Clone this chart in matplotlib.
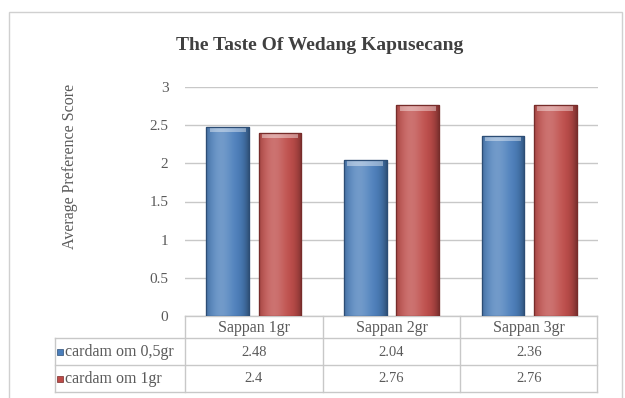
import numpy as np
import matplotlib.pyplot as plt
from matplotlib.colors import to_rgb
from matplotlib.patches import Rectangle
from matplotlib.lines import Line2D

plt.rcParams['font.family'] = ['Liberation Serif', 'DejaVu Serif']

judul = "The Taste Of Wedang Kapusecang"
kategori = ["Sappan 1gr", "Sappan 2gr", "Sappan 3gr"]
seri = ["cardam om 0,5gr", "cardam om 1gr"]
nilai_05 = [2.48, 2.04, 2.36]
nilai_1 = [2.4, 2.76, 2.76]
label_05 = ["2.48", "2.04", "2.36"]
label_1 = ["2.4", "2.76", "2.76"]

warna = ["#4a7ebb", "#be4b48"]
tepi = ["#2c4d75", "#772c2a"]
abu = "#5a5a5a"


def gradien(c, n=64):
    # warna batang: gelap di tepi, terang sedikit ke kiri tengah
    base = np.array(to_rgb(c))
    x = np.linspace(0, 1, n)
    terang = np.exp(-((x - 0.35) / 0.28) ** 2) * 0.22
    gelap = (np.abs(x - 0.45) / 0.55) ** 4 * 0.35
    img = base[None, :] + terang[:, None] * (1 - base[None, :]) - gelap[:, None] * base[None, :]
    return np.clip(img, 0, 1)[None, :, :]


fig = plt.figure(figsize=(6.25, 3.98), dpi=100)
ax = fig.add_axes([185 / 625, 1 - 316 / 398, 413 / 625, 229 / 398])

# bingkai luar
fig.patches.append(Rectangle((9 / 625, -0.05), 613 / 625, 1 - 12 / 398 + 0.05,
                             transform=fig.transFigure, fill=False,
                             edgecolor="#d0d0d0", linewidth=1.0))

x = np.arange(len(kategori))
lebar = 0.31
for i, (vals, off) in enumerate([(nilai_05, -0.19), (nilai_1, 0.19)]):
    bars = ax.bar(x + off, vals, lebar, color=warna[i], edgecolor=tepi[i],
                  linewidth=0.8, zorder=3)
    for b in bars:
        x0 = b.get_x()
        h = b.get_height()
        im = ax.imshow(gradien(warna[i]), extent=(x0, x0 + lebar, 0, h),
                       aspect="auto", zorder=3.5, interpolation="bicubic")
        im.set_clip_path(b)
        # sorotan di bagian atas batang
        ax.add_patch(Rectangle((x0 + lebar * 0.08, h - 0.07), lebar * 0.84, 0.06,
                               facecolor="white", alpha=0.4, edgecolor="none",
                               zorder=4))
        ax.add_patch(Rectangle((x0, 0), lebar, h, fill=False,
                               edgecolor=tepi[i], linewidth=0.9, zorder=5))

ax.set_xlim(-0.5, 2.5)
ax.set_ylim(0, 3)
ax.set_yticks(np.arange(0, 3.01, 0.5))
ax.set_yticklabels(["0", "0.5", "1", "1.5", "2", "2.5", "3"])
ax.set_xticks([])
ax.grid(axis="y", color="#c8c8c8", linewidth=1.0, zorder=0)
ax.tick_params(axis="y", length=0, pad=12, labelsize=11, labelcolor=abu)
for s in ax.spines.values():
    s.set_visible(False)

fig.text(70 / 625, 1 - 166 / 398, "Average Preference Score", rotation=90,
         ha="center", va="center", fontsize=11.5, color=abu)
fig.text(320 / 625, 1 - 45 / 398, judul, ha="center", va="center",
         fontsize=14, fontweight="bold", color="#404040")


# tabel data di bawah sumbu
def px(v):
    return (v - 185) / 413


def py(v):
    return (316 - v) / 229


garis = "#c8c8c8"
kw = dict(transform=ax.transAxes, color=garis, linewidth=1.0, clip_on=False)
ax.add_line(Line2D([px(185), px(597)], [py(316), py(316)], **kw))
for yy in [338, 365, 392]:
    ax.add_line(Line2D([px(55), px(597)], [py(yy), py(yy)], **kw))
ax.add_line(Line2D([px(55), px(55)], [py(338), py(392)], **kw))
for xx in [185, 597]:
    ax.add_line(Line2D([px(xx), px(xx)], [py(316), py(392)], **kw))
for k in [1, 2]:
    ax.add_line(Line2D([k / 3, k / 3], [py(316), py(392)], **kw))

for j, nama in enumerate(kategori):
    ax.text((j + 0.5) / 3, py(328), nama, transform=ax.transAxes,
            ha="center", va="center", fontsize=11.5, color=abu)
    ax.text((j + 0.5) / 3, py(352), label_05[j], transform=ax.transAxes,
            ha="center", va="center", fontsize=10.5, color=abu)
    ax.text((j + 0.5) / 3, py(379), label_1[j], transform=ax.transAxes,
            ha="center", va="center", fontsize=10.5, color=abu)

for r, (nama, yc) in enumerate(zip(seri, [352, 379])):
    ax.add_patch(Rectangle((px(57), py(yc + 3)), 6 / 413, 6 / 229,
                           transform=ax.transAxes, facecolor=warna[r],
                           edgecolor=tepi[r], linewidth=0.5, clip_on=False))
    ax.text(px(65), py(yc), nama, transform=ax.transAxes, ha="left",
            va="center", fontsize=11.5, color=abu)

fig.savefig("out.png", dpi=100)
